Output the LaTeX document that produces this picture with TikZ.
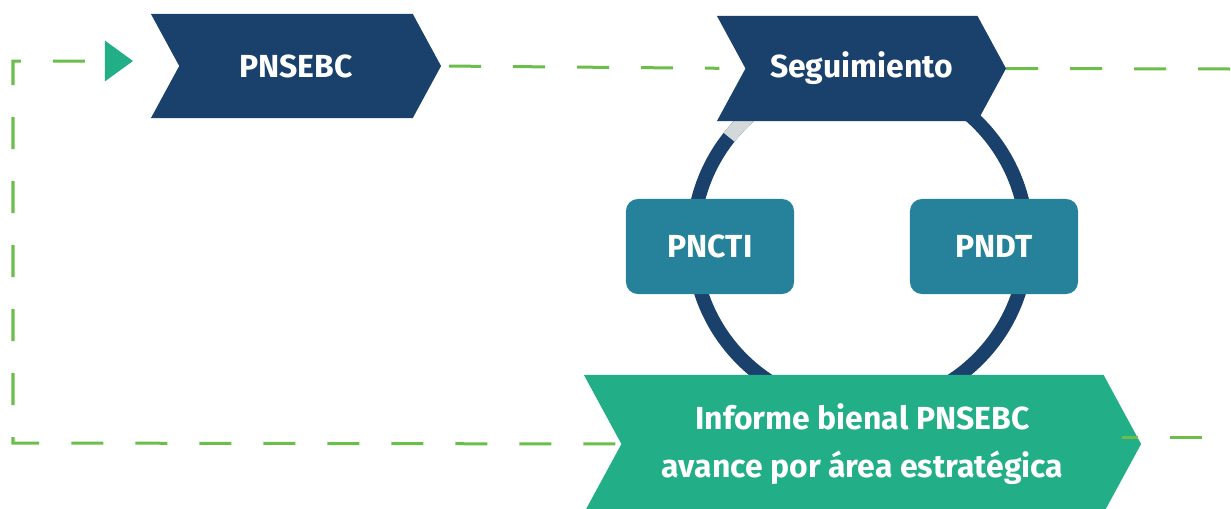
\documentclass[tikz,border=0pt]{standalone}
\usepackage{fontspec}
\setmainfont{Fira Sans}
\usetikzlibrary{shapes.symbols, arrows.meta, calc}

\definecolor{navy}{HTML}{1A416C}
\definecolor{tealbox}{HTML}{25829A}
\definecolor{infgreen}{HTML}{22AE87}
\definecolor{dashgreen}{HTML}{6CBE4B}
\definecolor{ringgray}{HTML}{D3D9D9}

\begin{document}
\begin{tikzpicture}[x=0.025cm, y=-0.025cm, >=stealth,
    chevron/.style={signal, signal from=west, signal to=east, signal pointer angle=123,
        inner sep=0pt, outer sep=0pt, text=white, font=\bfseries\fontsize{22.7}{34}\selectfont, align=center},
    planbox/.style={rectangle, rounded corners=0.3cm, fill=tealbox, text=white,
        minimum width=4.2cm, minimum height=2.375cm, inner sep=0pt, font=\bfseries\fontsize{22.7}{27}\selectfont},
    flow/.style={draw=dashgreen, line width=0.075cm, dash pattern=on 0.8cm off 0.8cm}]
    \useasboundingbox (0,0) rectangle (1231,508);

    % Draw the cycle ring
    \coordinate (hub) at (860,241);
    \draw[navy, line width=0.35cm] (hub) circle[radius=4.175cm];
    \draw[ringgray, line width=0.35cm] (hub) ++(141.6:4.175cm) arc[start angle=141.6, end angle=124, radius=4.175cm];

    % Draw the steps
    \node[chevron, fill=navy, minimum width=7.25cm, minimum height=2.6cm] (pnsebc) at (296,66) {PNSEBC};
    \node[chevron, fill=navy, minimum width=7.225cm, minimum height=2.625cm] (seg) at (861.5,68.5) {Seguimiento};
    \node[planbox] (pncti) at (710,246.5) {PNCTI};
    \node[planbox] (pndt) at (994,246.5) {PNDT};
    \node[chevron, fill=infgreen, minimum width=13.925cm, minimum height=3.45cm] (inf) at (862.5,444)
        {Informe bienal PNSEBC\\avance por área estratégica};

    % Draw the dashed links
    \coordinate (cornerB) at (13,443);
    \coordinate (cornerT) at (13,61);
    \coordinate (entry) at (133,61);
    \coordinate (exitR) at (1231,69);
    \coordinate (outA) at (1122,437);
    \coordinate (outB) at (1202,437);
    \draw[flow, dash phase=1.4cm, shorten >=0.65cm] (pnsebc.east) -- (seg.west);
    \draw[flow] (seg.east) -- (exitR);
    \draw[flow, dash phase=0.4cm] (outA) -- (outB);
    \draw[flow, dash phase=1.45cm, -{Triangle[length=0.7cm, width=1cm, color=infgreen]}]
        (inf.west) -- (cornerB) -- (cornerT) -- (entry);
\end{tikzpicture}
\end{document}
